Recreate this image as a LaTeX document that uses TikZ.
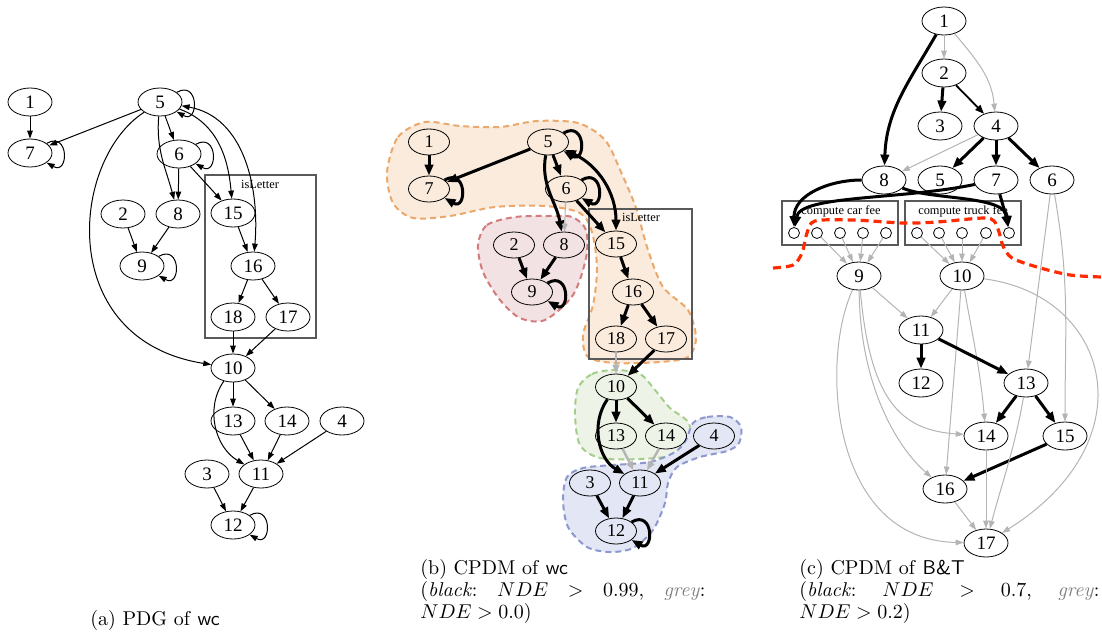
\documentclass[tikz,border=0pt]{standalone}
\usepackage{fontspec}
\newfontfamily\dotfont{Liberation Serif}
\usetikzlibrary{arrows.meta,shapes.geometric}

\definecolor{edgegrey}{HTML}{B4B4B4}
\definecolor{tanfill}{HTML}{FAEBDC}
\definecolor{tanline}{HTML}{EBA86A}
\definecolor{rosefill}{HTML}{F3E2E3}
\definecolor{roseline}{HTML}{D27C7C}
\definecolor{sagefill}{HTML}{EEF3E7}
\definecolor{sageline}{HTML}{A5CD8C}
\definecolor{bluefill}{HTML}{E3E6F4}
\definecolor{blueline}{HTML}{8C98CE}
\definecolor{cutred}{HTML}{FF2A00}

\tikzset{
  pdgnode/.style={draw, ellipse, inner sep=0pt, minimum width=22pt, minimum height=14pt, font=\dotfont\fontsize{9.5}{10}\selectfont},
  cpdmnode/.style={pdgnode, minimum width=20.5pt, minimum height=13pt, font=\dotfont\fontsize{9}{10}\selectfont},
  port/.style={draw, circle, inner sep=0pt, minimum size=5.5pt},
  cluster/.style={draw=black!65, line width=0.7pt},
  clusterlabel/.style={font=\dotfont\fontsize{6.2}{7}\selectfont, inner sep=0pt},
  dep/.style={->, >={Triangle[length=4pt,width=2.8pt]}, line width=0.5pt},
  mutual/.style={dep, <->},
  strong/.style={->, >={Triangle[length=5.5pt,width=4.2pt]}, line width=1.5pt},
  strongmutual/.style={strong, <->},
  medium/.style={->, >={Triangle[length=4.5pt,width=3.4pt]}, line width=0.9pt},
  weak/.style={dep, draw=edgegrey},
  weakbold/.style={->, >={Triangle[length=4.5pt,width=3.4pt]}, line width=1.2pt, draw=edgegrey},
  selfloop/.style={out=30, in=-30, looseness=1, min distance=13pt},
  group/.style={line width=1pt, dash pattern=on 3pt off 2pt},
  cutline/.style={draw=cutred, line width=1.6pt, dash pattern=on 4pt off 2.5pt},
  caption/.style={inner sep=0pt, font=\fontsize{10}{9}\selectfont}
}

\begin{document}
\begin{tikzpicture}[x=0.5pt,y=0.5pt]
\useasboundingbox (0,0) rectangle (1102,-633);

% (b) groups
\draw[group, draw=tanline, fill=tanfill] plot[smooth cycle] coordinates {(387,-172) (398,-137) (425,-122) (460,-126) (500,-127) (537,-121) (578,-123) (605,-140) (621,-172) (636,-208) (648,-250) (663,-287) (688,-310) (696,-338) (688,-357) (660,-362) (615,-363) (588,-357) (583,-335) (593,-305) (597,-268) (592,-232) (580,-213) (545,-206) (495,-207) (450,-216) (413,-218) (393,-203)};
\draw[group, draw=roseline, fill=rosefill] plot[smooth cycle] coordinates {(478,-245) (487,-225) (515,-217) (548,-216) (572,-217) (586,-230) (586,-258) (573,-295) (545,-320) (520,-318) (500,-300) (483,-272)};
\draw[group, draw=sageline, fill=sagefill] plot[smooth cycle] coordinates {(578,-388) (592,-374) (615,-370) (640,-374) (655,-390) (670,-408) (688,-422) (691,-442) (675,-455) (640,-459) (600,-458) (580,-445) (575,-415)};
\draw[group, draw=blueline, fill=bluefill] plot[smooth cycle] coordinates {(693,-423) (707,-417) (730,-417) (741,-427) (739,-443) (727,-451) (700,-457) (677,-467) (668,-483) (665,-503) (653,-530) (633,-548) (610,-552) (587,-547) (568,-527) (563,-500) (567,-477) (583,-468) (613,-465) (650,-462) (675,-452) (686,-440)};

% clusters
\draw[cluster] (205,-175) rectangle (316,-338);
\node[clusterlabel] (lbla) at (260,-184) {isLetter};
\draw[cluster] (589,-209) rectangle (692,-359);
\node[clusterlabel] (lblb) at (641,-217) {isLetter};
\draw[cluster] (782,-201) rectangle (898,-245);
\node[clusterlabel] (lblcar) at (841,-211) {compute car fee};
\draw[cluster] (905,-201) rectangle (1021,-245);
\node[clusterlabel] (lbltrk) at (963,-211) {compute truck fee};

% (a) PDG of wc
\node[pdgnode] (a1) at (30,-102) {1};
\node[pdgnode] (a7) at (30,-153) {7};
\node[pdgnode] (a5) at (160,-102) {5};
\node[pdgnode] (a6) at (179,-154) {6};
\node[pdgnode] (a2) at (123,-214) {2};
\node[pdgnode] (a8) at (178,-214) {8};
\node[pdgnode] (a9) at (142,-266) {9};
\node[pdgnode] (a15) at (233,-213) {15};
\node[pdgnode] (a16) at (253,-266) {16};
\node[pdgnode] (a18) at (233,-317) {18};
\node[pdgnode] (a17) at (288,-317) {17};
\node[pdgnode] (a10) at (233,-368) {10};
\node[pdgnode] (a13) at (233,-421) {13};
\node[pdgnode] (a14) at (287,-421) {14};
\node[pdgnode] (a4) at (342,-421) {4};
\node[pdgnode] (a3) at (207,-474) {3};
\node[pdgnode] (a11) at (261,-474) {11};
\node[pdgnode] (a12) at (233,-525) {12};

\draw[dep] (a1) -- (a7);
\draw[dep] (a7) to[selfloop] (a7);
\draw[dep] (a5) -- (a7);
\draw[dep] (a5) to[selfloop] (a5);
\draw[dep] (a5) -- (a6);
\draw[dep] (a5) to[out=-95,in=105] (a8);
\draw[dep] (a5) .. controls (70,-160) and (55,-340) .. (a10);
\draw[dep] (a5) to[out=-20,in=95] (a15);
\draw[mutual] (a5) to[out=-10,in=85] (a16);
\draw[dep] (a6) to[selfloop] (a6);
\draw[dep] (a6) -- (a8);
\draw[dep] (a6) -- (a15);
\draw[dep] (a2) -- (a9);
\draw[dep] (a8) -- (a9);
\draw[dep] (a9) to[selfloop] (a9);
\draw[dep] (a15) -- (a16);
\draw[dep] (a16) -- (a18);
\draw[dep] (a16) -- (a17);
\draw[dep] (a18) -- (a10);
\draw[dep] (a17) -- (a10);
\draw[dep] (a10) -- (a13);
\draw[dep] (a10) -- (a14);
\draw[dep] (a10) to[out=-125,in=150] (a11);
\draw[dep] (a13) -- (a11);
\draw[dep] (a14) -- (a11);
\draw[dep] (a4) -- (a11);
\draw[dep] (a3) -- (a12);
\draw[dep] (a11) -- (a12);
\draw[dep] (a12) to[selfloop] (a12);

% (b) CPDM of wc
\node[cpdmnode] (b1) at (429,-142) {1};
\node[cpdmnode] (b7) at (429,-189) {7};
\node[cpdmnode] (b5) at (548,-142) {5};
\node[cpdmnode] (b6) at (566,-189) {6};
\node[cpdmnode] (b2) at (514,-245) {2};
\node[cpdmnode] (b8) at (564,-245) {8};
\node[cpdmnode] (b9) at (532,-292) {9};
\node[cpdmnode] (b15) at (616,-244) {15};
\node[cpdmnode] (b16) at (633,-292) {16};
\node[cpdmnode] (b18) at (616,-339) {18};
\node[cpdmnode] (b17) at (666,-339) {17};
\node[cpdmnode] (b10) at (616,-387) {10};
\node[cpdmnode] (b13) at (616,-436) {13};
\node[cpdmnode] (b14) at (666,-436) {14};
\node[cpdmnode] (b4) at (714,-436) {4};
\node[cpdmnode] (b3) at (590,-483) {3};
\node[cpdmnode] (b11) at (640,-483) {11};
\node[cpdmnode] (b12) at (616,-531) {12};

\draw[strong] (b1) -- (b7);
\draw[strong] (b7) to[selfloop] (b7);
\draw[strong] (b5) -- (b7);
\draw[strong] (b5) to[selfloop] (b5);
\draw[strong] (b5) -- (b6);
\draw[strong] (b6) to[selfloop] (b6);
\draw[strong] (b5) to[out=-100,in=100] (b8);
\draw[strongmutual] (b5) to[out=-25,in=90] (b15);
\draw[strong] (b6) -- (b15);
\draw[weak] (b6) -- (b8);
\draw[strong] (b2) -- (b9);
\draw[strong] (b8) -- (b9);
\draw[strong] (b9) to[selfloop] (b9);
\draw[strong] (b15) -- (b16);
\draw[strong] (b16) -- (b18);
\draw[strong] (b16) -- (b17);
\draw[weakbold] (b18) -- (b10);
\draw[strong] (b17) -- (b10);
\draw[strong] (b10) -- (b13);
\draw[strong] (b10) -- (b14);
\draw[strong] (b10) to[out=-125,in=150] (b11);
\draw[weakbold] (b13) -- (b11);
\draw[weakbold] (b14) -- (b11);
\draw[strong] (b4) -- (b11);
\draw[strong] (b3) -- (b12);
\draw[strong] (b11) -- (b12);
\draw[strong] (b12) to[selfloop] (b12);

% (c) CPDM of B&T
\node[pdgnode] (c1) at (944,-21) {1};
\node[pdgnode] (c2) at (944,-73) {2};
\node[pdgnode] (c3) at (940,-126) {3};
\node[pdgnode] (c4) at (996,-126) {4};
\node[pdgnode] (c8) at (884,-180) {8};
\node[pdgnode] (c5) at (940,-180) {5};
\node[pdgnode] (c7) at (996,-180) {7};
\node[pdgnode] (c6) at (1052,-180) {6};
\node[pdgnode] (c9) at (859,-276) {9};
\node[pdgnode] (c10) at (962,-276) {10};
\node[pdgnode] (c11) at (921,-330) {11};
\node[pdgnode] (c12) at (921,-383) {12};
\node[pdgnode] (c13) at (1026,-383) {13};
\node[pdgnode] (c14) at (986,-436) {14};
\node[pdgnode] (c15) at (1065,-436) {15};
\node[pdgnode] (c16) at (945,-489) {16};
\node[pdgnode] (c17) at (986,-543) {17};
\foreach \i/\x in {1/794,2/817,3/840,4/863,5/886}
  \node[port] (car\i) at (\x,-233) {};
\foreach \i/\x in {1/917,2/939,3/962,4/986,5/1009}
  \node[port] (trk\i) at (\x,-233) {};

\draw[weak] (c1) -- (c2);
\draw[weak] (c1) to[out=-50,in=95] (c4);
\draw[strong] (c1) to[out=-120,in=88] (c8);
\draw[strong] (c2) -- (c3);
\draw[medium] (c2) -- (c4);
\draw[weak] (c4) -- (c8);
\draw[strong] (c4) -- (c5);
\draw[strong] (c4) -- (c7);
\draw[strong] (c4) -- (c6);
\draw[strong] (c8) to[out=180,in=90] (car1);
\draw[strong] (c7) .. controls (900,-200) and (800,-195) .. (car1);
\draw[strong] (c8) .. controls (930,-200) and (1005,-195) .. (trk5);
\draw[strong] (c7) to[out=-75,in=100] (trk5);
\foreach \i in {2,...,5}
  \draw[weak] (car\i) -- (c9);
\foreach \i in {1,...,4}
  \draw[weak] (trk\i) -- (c10);
\draw[weak] (c9) -- (c11);
\draw[weak] (c10) -- (c11);
\draw[weak] (c9) .. controls (870,-400) and (900,-430) .. (c14);
\draw[weak] (c9) .. controls (860,-390) and (900,-450) .. (c16);
\draw[weak] (c9) .. controls (820,-360) and (830,-540) .. (c17);
\draw[weak] (c10) -- (c16);
\draw[weak] (c10) to[out=-80,in=95] (c14);
\draw[weak] (c10) .. controls (1110,-295) and (1150,-440) .. (c17);
\draw[weak] (c6) -- (c13);
\draw[weak] (c6) to[out=-80,in=90] (c15);
\draw[strong] (c11) -- (c12);
\draw[strong] (c11) -- (c13);
\draw[strong] (c13) -- (c14);
\draw[strong] (c13) -- (c15);
\draw[strong] (c15) -- (c16);
\draw[weak] (c13) to[out=-100,in=75] (c17);
\draw[weak] (c14) -- (c17);
\draw[weak] (c16) -- (c17);
\draw[cutline] plot[smooth] coordinates {(773,-268) (793,-265) (802,-253) (807,-233) (815,-221) (853,-220) (903,-223) (937,-222) (983,-218) (994,-221) (999,-232) (1003,-246) (1012,-258) (1037,-267) (1070,-275) (1102,-277)};

% captions
\node[caption, anchor=base] (capa) at (155,-625) {(a) PDG of \textsf{wc}};
\node[caption, anchor=north west, text width=142.5pt, align=left] (capb) at (420,-559)
  {(b) CPDM of \textsf{wc}\\
   \noindent\hbox to 142.5pt{(\textit{black}:\hfill$NDE$\hfill$>$\hfill$0.99$,\hfill\textcolor{gray}{\textit{grey}}:}\\
   $NDE>0.0$)};
\node[caption, anchor=north west, text width=150pt, align=left] (capc) at (799,-559)
  {(c) CPDM of \textsf{B\&T}\\
   \noindent\hbox to 150pt{(\textit{black}:\hfill$NDE$\hfill$>$\hfill$0.7$,\hfill\textcolor{gray}{\textit{grey}}:}\\
   $NDE>0.2$)};
\end{tikzpicture}
\end{document}
